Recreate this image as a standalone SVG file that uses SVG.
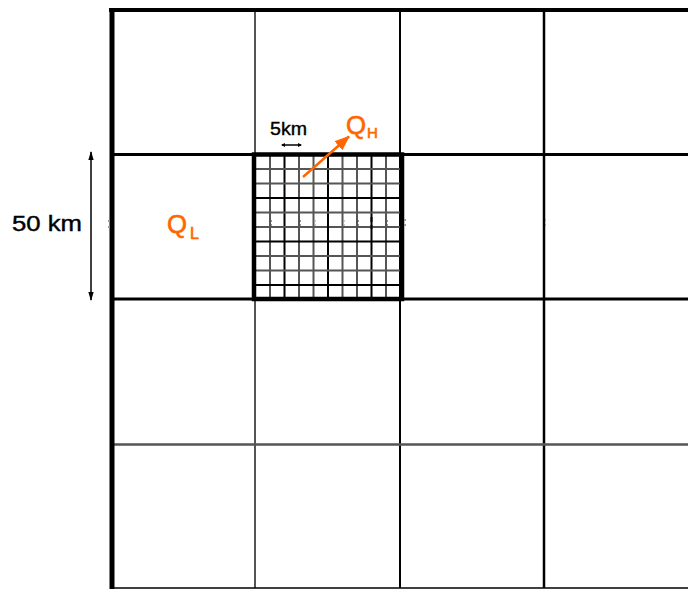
<svg xmlns="http://www.w3.org/2000/svg" width="688" height="589" viewBox="0 0 688 589">
<style>
.blk{stroke:#000;fill:none}
.gry{stroke:#555;fill:none}
.fine{stroke:#555;stroke-width:2}
.fineb{stroke:#000;stroke-width:2}
.lbl{font-family:"Liberation Sans",Arial,sans-serif;fill:#000;stroke:#000;stroke-width:0.4}
.q{font-family:"Liberation Sans",Arial,sans-serif;fill:#FF6600;stroke:#FF6600;stroke-width:0.6}
.tick{fill:#999}
</style>
<defs>
<marker id="ah" viewBox="0 0 10 6" refX="9" refY="3" markerWidth="9" markerHeight="6" markerUnits="userSpaceOnUse" orient="auto-start-reverse">
<path d="M0,0 L10,3 L0,6 z" fill="#000"/>
</marker>
<marker id="ahs" viewBox="0 0 4 4" refX="3" refY="2" markerWidth="4" markerHeight="4" markerUnits="userSpaceOnUse" orient="auto-start-reverse">
<path d="M0,0 L4,2 L0,4 z" fill="#000"/>
</marker>
<marker id="aho" viewBox="0 0 15 12" refX="14" refY="6" markerWidth="15" markerHeight="12" markerUnits="userSpaceOnUse" orient="auto">
<path d="M0,0 L15,6 L0,12 z" fill="#FF6600"/>
</marker>
</defs>
<rect width="688" height="589" fill="#fff"/>
<g id="coarse-grid">
<line class="gry" x1="255" y1="10" x2="255" y2="588" stroke-width="2"/>
<line class="blk" x1="400" y1="10" x2="400" y2="588" stroke-width="2"/>
<line class="blk" x1="544" y1="10" x2="544" y2="588" stroke-width="2.5"/>
<line class="blk" x1="112" y1="154.5" x2="688" y2="154.5" stroke-width="3"/>
<line class="blk" x1="112" y1="299" x2="688" y2="299" stroke-width="3"/>
<line class="gry" x1="112" y1="444.5" x2="688" y2="444.5" stroke-width="2.5"/>
<line class="blk" x1="112" y1="588" x2="688" y2="588" stroke-width="1.5"/>
<line class="blk" x1="109" y1="10" x2="688" y2="10" stroke-width="4"/>
<line class="blk" x1="112" y1="8" x2="112" y2="589" stroke-width="5"/>
</g>
<g id="fine-grid">
<line class="fine" x1="270" y1="154" x2="270" y2="299"/>
<line class="fineb" x1="284.5" y1="154" x2="284.5" y2="299"/>
<line class="fine" x1="299" y1="154" x2="299" y2="299"/>
<line class="fine" x1="313.5" y1="154" x2="313.5" y2="299"/>
<line class="fineb" x1="328" y1="154" x2="328" y2="299"/>
<line class="fine" x1="342.5" y1="154" x2="342.5" y2="299"/>
<line class="fine" x1="357" y1="154" x2="357" y2="299"/>
<line class="fineb" x1="371.5" y1="154" x2="371.5" y2="299"/>
<line class="fine" x1="386" y1="154" x2="386" y2="299"/>
<line class="fine" x1="254" y1="169" x2="402" y2="169"/>
<line class="fine" x1="254" y1="183.5" x2="402" y2="183.5"/>
<line class="fineb" x1="254" y1="198" x2="402" y2="198"/>
<line class="fine" x1="254" y1="212.5" x2="402" y2="212.5"/>
<line class="fine" x1="254" y1="227" x2="402" y2="227"/>
<line class="fineb" x1="254" y1="241.5" x2="402" y2="241.5"/>
<line class="fine" x1="254" y1="256" x2="402" y2="256"/>
<line class="fine" x1="254" y1="270.5" x2="402" y2="270.5"/>
<line class="fineb" x1="254" y1="285" x2="402" y2="285"/>
<rect class="blk" x="254" y="154.5" width="148" height="144.5" stroke-width="4.5"/>
</g>
<g id="ticks">
<rect class="tick" x="108" y="220" width="2" height="2"/><rect class="tick" x="108" y="226" width="2" height="2"/>
<rect class="tick" x="271" y="220" width="1" height="2"/><rect class="tick" x="271" y="224" width="1" height="2"/>
<rect class="tick" x="300" y="220" width="1" height="2"/><rect class="tick" x="300" y="224" width="1" height="2"/>
<rect class="tick" x="314.5" y="220" width="1" height="2"/><rect class="tick" x="314.5" y="224" width="1" height="2"/>
<rect x="327" y="217" width="2" height="5" fill="#000"/><rect x="327" y="225" width="2" height="4" fill="#000"/>
<rect class="tick" x="343.5" y="220" width="1" height="2"/><rect class="tick" x="343.5" y="224" width="1" height="2"/>
<rect class="tick" x="358" y="220" width="1" height="2"/><rect class="tick" x="358" y="224" width="1" height="2"/>
<rect x="370.5" y="217" width="2" height="5" fill="#000"/><rect x="370.5" y="225" width="2" height="4" fill="#000"/>
<rect class="tick" x="387" y="220" width="1" height="2"/><rect class="tick" x="387" y="224" width="1" height="2"/>
<rect class="tick" x="404" y="219" width="2" height="2"/><rect class="tick" x="404" y="224" width="2" height="2"/>
<rect class="tick" x="545" y="219" width="1" height="2"/><rect class="tick" x="545" y="224" width="1" height="2"/>
</g>
<g id="connectors">
<line class="blk" x1="91" y1="152" x2="91" y2="300" stroke-width="1.5" marker-start="url(#ah)" marker-end="url(#ah)"/>
<line class="blk" x1="282" y1="145" x2="301" y2="145" stroke-width="1.5" marker-start="url(#ahs)" marker-end="url(#ahs)"/>
<line x1="303" y1="177" x2="349" y2="136.5" stroke="#FF6600" stroke-width="2.5" marker-end="url(#aho)"/>
</g>
<g id="label-50km"><text class="lbl" x="12" y="231" font-size="22" textLength="70" lengthAdjust="spacingAndGlyphs">50 km</text></g>
<g id="label-5km"><text class="lbl" x="270" y="135" font-size="19" textLength="37" lengthAdjust="spacingAndGlyphs">5km</text></g>
<g id="label-QH"><text class="q" x="346" y="134" font-size="25" textLength="20" lengthAdjust="spacingAndGlyphs">Q</text><text class="q" x="367" y="138" font-size="15">H</text></g>
<g id="label-QL"><text class="q" x="167" y="233" font-size="25" textLength="20" lengthAdjust="spacingAndGlyphs">Q</text><text class="q" x="190" y="239" font-size="16">L</text></g>
</svg>
